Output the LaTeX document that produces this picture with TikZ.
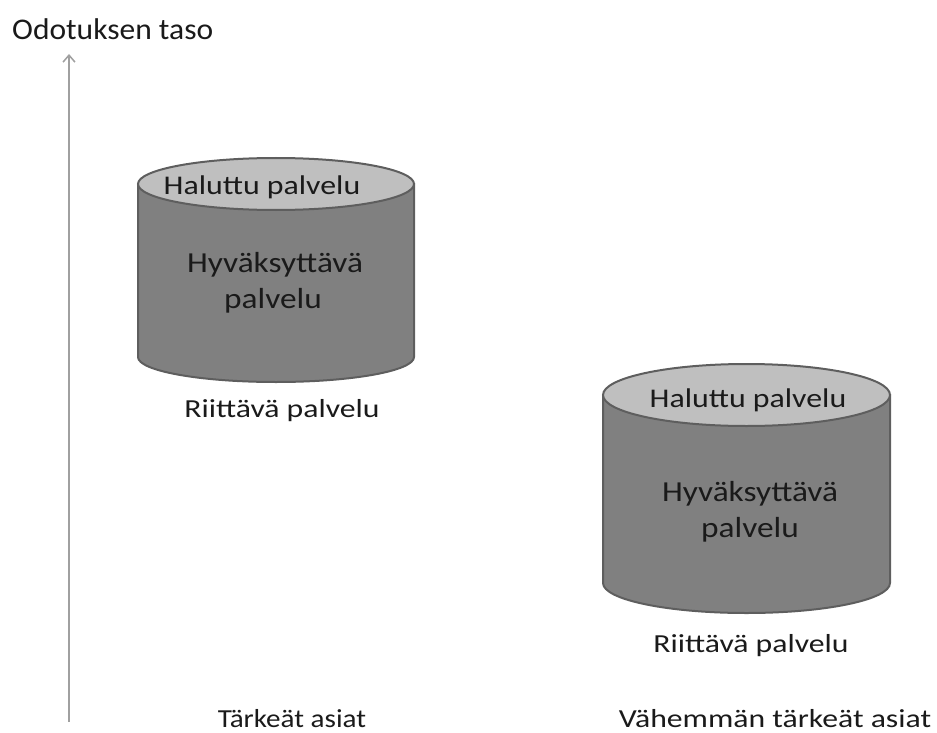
\documentclass[tikz,border=0pt]{standalone}
\usepackage{fontspec}
\setmainfont{Carlito}
\usetikzlibrary{arrows.meta}
\definecolor{bodygray}{HTML}{808080}
\definecolor{topgray}{HTML}{BFBFBF}
\definecolor{edgegray}{HTML}{5E5E5E}
\definecolor{axisgray}{HTML}{A0A0A0}
\definecolor{txt}{HTML}{1A1A1A}
\newcommand{\sx}[2]{\scalebox{#1}[1]{#2}}
\tikzset{
  lbl/.style={inner sep=0pt, text=txt, anchor=base},
  cylbody/.style={fill=bodygray, draw=edgegray, line width=2pt},
  cyltop/.style={fill=topgray, draw=edgegray, line width=2pt},
  axisline/.style={draw=axisgray, line width=2pt, -{Straight Barb[length=7pt,width=12pt,line width=1.5pt]}},
}
\begin{document}
\begin{tikzpicture}[x=1pt,y=-1pt]
\useasboundingbox (0,0) rectangle (937,733);
% axis
\coordinate (ax0) at (69,722);
\coordinate (ax1) at (69,54);
\draw[axisline] (ax0) -- (ax1);
\node[lbl, anchor=base west] (title) at (12,40) {\fontsize{30}{34}\selectfont\sx{1.05}{Odotuksen taso}};

% cylinder 1
\path[cylbody] (138,184) -- (138,357) arc[start angle=180, end angle=0, x radius=138, y radius=25] -- (414,184) -- cycle;
\path[cyltop] (276,184) ellipse[x radius=138, y radius=26];
\node[lbl] (h1) at (262,194) {\fontsize{27}{30}\selectfont\sx{1.18}{Haluttu palvelu}};
\node[lbl] (a1) at (275,272) {\fontsize{29}{32}\selectfont\sx{1.15}{Hyväksyttävä}};
\node[lbl] (b1) at (273,308) {\fontsize{29}{32}\selectfont\sx{1.15}{palvelu}};
\node[lbl] (r1) at (282,417) {\fontsize{26}{30}\selectfont\sx{1.22}{Riittävä palvelu}};

% cylinder 2
\path[cylbody] (603,395) -- (603,583) arc[start angle=180, end angle=0, x radius=143.5, y radius=30] -- (890,395) -- cycle;
\path[cyltop] (746.5,395) ellipse[x radius=143.5, y radius=31];
\node[lbl] (h2) at (748,407) {\fontsize{27}{30}\selectfont\sx{1.18}{Haluttu palvelu}};
\node[lbl] (a2) at (750,501) {\fontsize{29}{32}\selectfont\sx{1.15}{Hyväksyttävä}};
\node[lbl] (b2) at (750,537) {\fontsize{29}{32}\selectfont\sx{1.15}{palvelu}};
\node[lbl] (r2) at (751,652) {\fontsize{26}{30}\selectfont\sx{1.22}{Riittävä palvelu}};

% bottom labels
\node[lbl] (t1) at (292,727) {\fontsize{26}{30}\selectfont\sx{1.12}{Tärkeät asiat}};
\node[lbl] (t2) at (775,727) {\fontsize{26}{30}\selectfont\sx{1.22}{Vähemmän tärkeät asiat}};
\end{tikzpicture}
\end{document}
